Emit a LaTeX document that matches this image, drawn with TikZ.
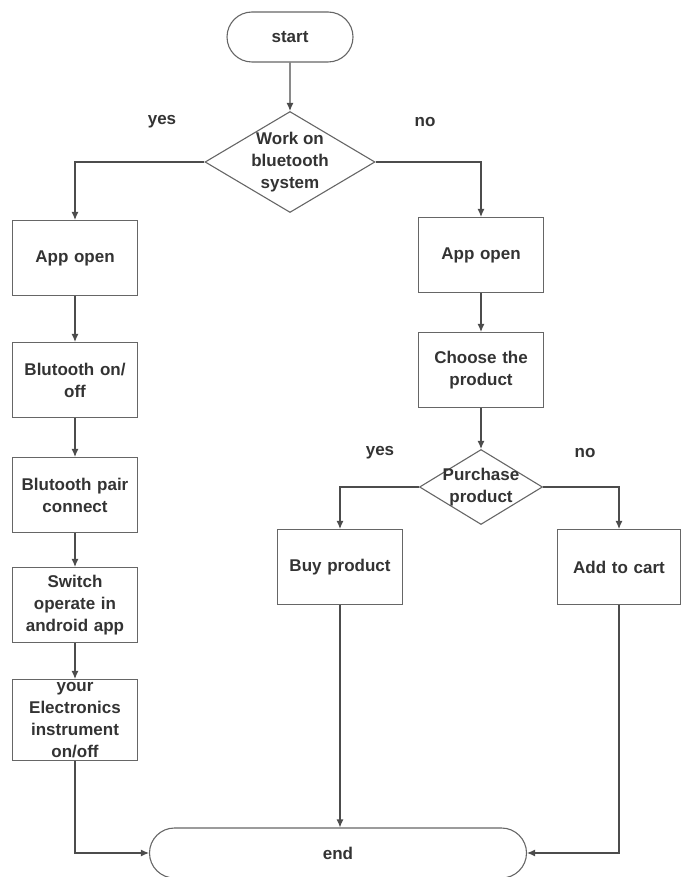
\documentclass[tikz,border=0pt]{standalone}
\usepackage{fontspec}
\setmainfont{Liberation Sans}
\usepackage{tikz}
\usetikzlibrary{shapes.geometric, shapes.misc, arrows.meta, positioning}

\begin{document}
\begin{tikzpicture}[x=1pt, y=-1pt, >={Latex[length=8pt,width=7pt]},
    line/.style={draw=black!70, line width=1.1pt},
    txt/.style={font=\fontsize{17}{22}\selectfont\bfseries, text=black!80},
    terminal/.style={rounded rectangle, draw=black!60, line width=1.1pt, txt, minimum height=50pt, inner sep=0pt},
    process/.style={rectangle, draw=black!60, line width=1.1pt, txt, minimum width=125pt, minimum height=75pt, text width=120pt, align=center, inner sep=0pt},
    decision/.style={diamond, draw=black!60, line width=1.1pt, inner sep=0pt},
    dtext/.style={txt, align=center}
]
    \useasboundingbox (0,0) rectangle (683,877);

    % 1. Bat dau va lua chon
    \node[terminal, minimum width=126pt] (start) at (290,37) {start};
    \node[decision, minimum width=170pt, minimum height=101pt,
          label={[dtext]center:{Work on\\bluetooth\\system}}] (q1) at (290,162) {};
    \node[txt] (yes1) at (162,122) {yes};
    \node[txt] (no1) at (425,122) {no};

    % 2. Nhanh trai
    \node[process] (la1) at (75,258) {App open};
    \node[process] (la2) at (75,380) {Blutooth on/\\off};
    \node[process] (la3) at (75,495) {Blutooth pair\\connect};
    \node[process] (la4) at (75,605) {Switch\\operate in\\android app};
    \node[process, minimum height=81pt] (la5) at (75,720) {your\\Electronics\\instrument\\on/off};

    % 3. Nhanh phai
    \node[process] (ra1) at (481,255) {App open};
    \node[process] (ra2) at (481,370) {Choose the\\product};
    \node[decision, minimum width=123pt, minimum height=75pt,
          label={[dtext]center:{Purchase\\product}}] (q2) at (481,487) {};
    \node[txt] (yes2) at (380,453) {yes};
    \node[txt] (no2) at (585,453) {no};
    \node[process] (bp) at (340,567) {Buy product};
    \node[process, minimum width=123pt] (ac) at (619,567) {Add to cart};

    % 4. Ket thuc
    \node[terminal, minimum width=377pt] (end) at (338,853) {end};

    % 5. Cac mui ten
    \draw[line,->] (start) -- (q1);
    \draw[line,->] (q1.west) -| (la1.north);
    \draw[line,->] (q1.east) -| (ra1.north);
    \draw[line,->] (la1) -- (la2);
    \draw[line,->] (la2) -- (la3);
    \draw[line,->] (la3) -- (la4);
    \draw[line,->] (la4) -- (la5);
    \draw[line,->] (la5.south) |- (end.west);
    \draw[line,->] (ra1) -- (ra2);
    \draw[line,->] (ra2) -- (q2);
    \draw[line,->] (q2.west) -| (bp.north);
    \draw[line,->] (q2.east) -| (ac.north);
    \draw[line,->] (bp.south) -- (bp.south |- end.north);
    \draw[line,->] (ac.south) |- (end.east);
\end{tikzpicture}
\end{document}
